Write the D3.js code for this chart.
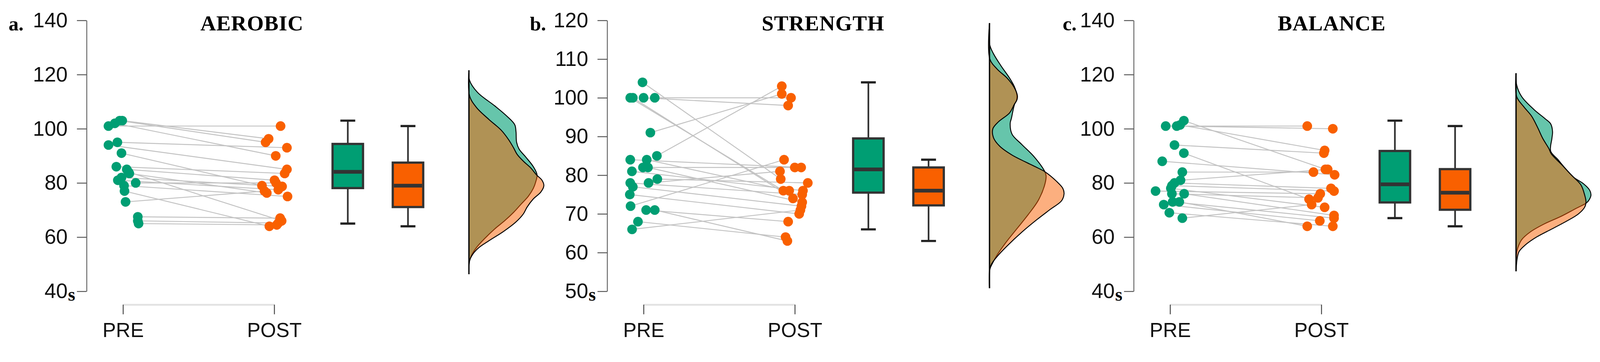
<!DOCTYPE html>
<head>
    <script src="https://d3js.org/d3.v7.min.js"></script>
    <style>
        html, body { margin: 0; padding: 0; width: 100%; height: 100%; overflow: hidden; background: #fff }
        svg { display: block }
        .yax .tick text { font-family: "Liberation Sans Narrow", "Arial Narrow", "Liberation Sans", sans-serif }
        .xax .tick text { font-family: "Liberation Sans", Arial, sans-serif }
        .title, .plabel, .unit { font-family: "Liberation Serif", "Times New Roman", serif; font-weight: bold }
    </style>
</head>
<body>
<svg id="chart" width="100%" height="100%" viewBox="0 0 4306 928" preserveAspectRatio="xMinYMin meet"></svg>
<script>
    // ---- data ----
    var groups = ["PRE", "POST"]

    // a. AEROBIC, one entry per subject (pre / post pairs)
    var aerobicPre  = [101, 103, 103, 102, 95, 94, 91, 86, 85, 83.5, 82, 81, 80, 79, 77, 84, 73, 67.5, 66, 65]
    var aerobicPost = [101, 96.3, 95, 90, 93, 85, 79, 83.5, 81, 76.3, 78.7, 77.5, 80, 75, 64, 66, 77, 67, 65.2, 64.5]
    var aerobicPreJit  = [-0.096, -0.005, -0.022, -0.054, -0.037, -0.096, -0.010, -0.044, 0.025, 0.042, -0.010, -0.034, 0.084, 0.007, 0.010, 0.037, 0.017, 0.098, 0.098, 0.103]
    var aerobicPostJit = [0.042, -0.037, -0.057, 0.010, 0.084, 0.084, -0.081, 0.069, 0.002, -0.049, 0.052, 0.027, 0.012, 0.088, -0.032, 0.049, -0.064, 0.039, 0.027, 0.017]
    var aerobicPreBox  = [65, 78.1, 84.1, 94.4, 103]   // min, q1, median, q3, max
    var aerobicPostBox = [64, 71.1, 79, 87.5, 101]
    var aerobicPreDens  = [[121.6,0],[117.9,5],[113.4,70],[108.4,210],[104.5,310],[101.5,370],[99,380],[95,385],[92.5,405],[89.5,460],[86,520],[83,550],[80.5,540],[78,520],[75.1,480],[72.1,420],[69.1,360],[66.1,290],[63.1,210],[59.6,130],[56.1,60],[53.2,20],[51.2,5],[46.3,0]]
    var aerobicPostDens = [[121.6,0],[112.2,5],[107.9,60],[103.5,160],[99.5,260],[96,320],[93,360],[90.5,390],[88,440],[85.5,500],[83,545],[81,590],[79,605],[76.6,580],[74.1,520],[71.1,470],[68.6,440],[65.6,380],[62.1,280],[58.6,160],[56.1,80],[53.6,30],[51.2,5],[46.3,0]]
    var aerobicTicks = [40, 60, 80, 100, 120, 140]

    // b. STRENGTH
    var strengthPre  = [104, 100, 100, 100, 100, 91, 85, 84, 84, 82, 82, 81, 79, 78, 78, 77, 75, 72, 71, 71, 68, 66]
    var strengthPost = [79, 100, 98, 76, 74, 101, 103, 82, 76, 82, 73, 76, 78, 81, 75, 72, 70, 84, 68, 63, 64, 71]
    var strengthPreJit  = [-0.007, 0.074, 0, -0.088, -0.071, 0.045, 0.088, -0.088, 0.021, -0.004, 0.029, -0.077, 0.091, 0.033, -0.088, -0.071, -0.091, -0.086, 0.017, 0.074, -0.037, -0.076]
    var strengthPostJit = [-0.093, -0.025, -0.044, -0.076, -0.012, -0.086, -0.086, 0.042, -0.037, 0, 0.049, 0.054, 0.086, -0.098, 0.049, 0.044, 0.029, -0.071, -0.044, -0.049, -0.061, 0.037]
    var strengthPreBox  = [66, 75.5, 81.5, 89.5, 104]
    var strengthPostBox = [63, 72.2, 76, 82, 84]
    var strengthPreDens  = [[119.3,0],[113.7,2],[111.4,32],[108.3,92],[105.1,162],[102.8,202],[100.6,222],[99.2,217],[98.3,202],[94.7,177],[93.4,167],[90.6,182],[87.9,262],[84.7,362],[80.9,447],[79.8,457],[77.1,442],[73.4,392],[69.8,312],[66.2,222],[62.6,132],[59.4,62],[57.1,22],[55.8,4],[50.8,0]]
    var strengthPostDens = [[119.3,0],[110.1,2],[107.4,62],[105.1,142],[102.8,197],[100.6,225],[99.5,222],[98.3,200],[96.1,162],[93.8,72],[92,27],[89.7,32],[87.5,82],[85.2,182],[83.4,292],[82,382],[80.9,447],[78.4,542],[76.6,592],[75.2,602],[73.4,582],[71.2,492],[68.5,382],[65.3,262],[61.7,142],[59,62],[57.1,17],[55.8,2],[50.8,0]]
    var strengthTicks = [50, 60, 70, 80, 90, 100, 110, 120]

    // c. BALANCE
    var balancePre  = [101, 101, 103, 101.4, 94, 91, 88, 84, 81, 80, 79, 78, 77, 76, 76, 73, 73, 72, 69, 67]
    var balancePost = [101, 100, 85, 92, 91, 74, 83, 84, 85, 78, 77, 71, 76, 74.5, 68, 67, 64, 66, 64, 72]
    var balancePreJit  = [-0.029, 0.044, 0.091, 0.066, 0.029, 0.091, -0.052, 0.081, 0.069, 0.029, 0.012, 0.005, -0.096, 0.012, 0.093, 0.017, 0.061, -0.042, -0.005, 0.081]
    var balancePostJit = [-0.093, 0.076, 0.027, 0.022, 0.017, -0.081, 0.088, -0.052, 0.042, 0.064, 0.084, 0.022, -0.007, -0.022, 0.084, 0.084, -0.093, -0.010, 0.076, -0.064]
    var balancePreBox  = [67, 72.8, 79.5, 91.8, 103]
    var balancePostBox = [64, 70.1, 76.4, 85.1, 101]
    var balancePreDens  = [[120.5,0],[116.2,5],[111.9,45],[107.1,145],[103.7,235],[101.8,280],[98.9,295],[96.5,290],[91.7,280],[88.8,335],[85,405],[82.1,465],[79.7,545],[77.3,595],[75.4,605],[73.4,585],[72.5,565],[70.6,485],[67.7,365],[64.8,225],[61.9,115],[59,45],[56.1,15],[54.2,5],[47.4,0]]
    var balancePostDens = [[120.5,0],[111.9,5],[108,65],[104.7,125],[100.4,175],[96.5,215],[92.7,265],[90.7,285],[86.9,365],[83.5,435],[82.1,465],[79.2,525],[75.4,555],[73,565],[71.1,555],[68.6,505],[65.8,405],[62.9,285],[60,165],[57.1,75],[54.7,25],[52.3,10],[47.4,0]]
    var balanceTicks = [40, 60, 80, 100, 120, 140]

    var panels = [
        { label: "a.", title: "AEROBIC", left: 233, labelX: 23, titleX: 678, ticks: aerobicTicks,
          pre: aerobicPre, post: aerobicPost, preJit: aerobicPreJit, postJit: aerobicPostJit,
          boxes: [aerobicPreBox, aerobicPostBox], dens: [aerobicPreDens, aerobicPostDens] },
        { label: "b.", title: "STRENGTH", left: 1634, labelX: 1426, titleX: 2215, ticks: strengthTicks,
          pre: strengthPre, post: strengthPost, preJit: strengthPreJit, postJit: strengthPostJit,
          boxes: [strengthPreBox, strengthPostBox], dens: [strengthPreDens, strengthPostDens] },
        { label: "c.", title: "BALANCE", left: 3051, labelX: 2860, titleX: 3584, ticks: balanceTicks,
          pre: balancePre, post: balancePost, preJit: balancePreJit, postJit: balancePostJit,
          boxes: [balancePreBox, balancePostBox], dens: [balancePreDens, balancePostDens] }
    ]

    var green = "#009E73", orange = "#F96000"
    var svg = d3.select("#chart")

    panels.forEach(function (p) {
        var g = svg.append("g")
        var preX = p.left + 98, postX = preX + 407
        var boxX = preX + 605, densX = boxX + 326

        var y = d3.scaleLinear().domain(d3.extent(p.ticks)).range([785, 55])
        var xCat = d3.scalePoint().domain(groups).range([preX, postX])
        var xJit = d3.scaleLinear().domain([0, 1]).range([preX, postX])
        var xBox = d3.scalePoint().domain(groups).range([boxX, boxX + 162])
        var xDen = d3.scaleLinear().domain([0, 600]).range([densX, densX + 200])

        // y axis
        var ya = g.append("g").attr("class", "yax").attr("transform", "translate(" + p.left + ",0)")
            .call(d3.axisLeft(y).tickValues(p.ticks).tickSize(26).tickSizeOuter(0).tickPadding(25))
        ya.select(".domain").attr("stroke", "#666").attr("stroke-width", 2.5)
        ya.selectAll(".tick line").attr("stroke", "#555").attr("stroke-width", 2.5)
        ya.selectAll(".tick text").attr("font-size", 56).attr("fill", "#111")
        g.append("text").attr("class", "unit").attr("x", p.left - 50).attr("y", y(p.ticks[0]) + 26)
            .attr("font-size", 50).text("s")

        // x axis
        var xa = g.append("g").attr("class", "xax").attr("transform", "translate(0,821)")
            .call(d3.axisBottom(xCat).tickSize(26).tickSizeOuter(0).tickPadding(23))
        xa.select(".domain").attr("stroke", "#e3e3e3").attr("stroke-width", 5)
        xa.selectAll(".tick line").attr("stroke", "#444").attr("stroke-width", 2.5)
        xa.selectAll(".tick text").attr("font-size", 54).attr("fill", "#111")

        // titles
        g.append("text").attr("class", "plabel").attr("x", p.labelX).attr("y", 82)
            .attr("font-size", 54).text(p.label)
        g.append("text").attr("class", "title").attr("x", p.titleX).attr("y", 82)
            .attr("text-anchor", "middle").attr("font-size", 58).attr("letter-spacing", 1).text(p.title)

        // paired lines
        g.selectAll(".pair").data(p.pre).enter().append("line")
            .attr("x1", (d, i) => xJit(p.preJit[i]))
            .attr("y1", d => y(d))
            .attr("x2", (d, i) => xJit(1 + p.postJit[i]))
            .attr("y2", (d, i) => y(p.post[i]))
            .attr("stroke", "#c2c2c2").attr("stroke-width", 2.5)

        // points
        g.selectAll(".ptPre").data(p.pre).enter().append("circle")
            .attr("cx", (d, i) => xJit(p.preJit[i])).attr("cy", d => y(d))
            .attr("r", 13).attr("fill", green)
        g.selectAll(".ptPost").data(p.post).enter().append("circle")
            .attr("cx", (d, i) => xJit(1 + p.postJit[i])).attr("cy", d => y(d))
            .attr("r", 13).attr("fill", orange)

        // box plots
        var bw = 82
        p.boxes.forEach(function (b, k) {
            var cx = xBox(groups[k])
            var bg = g.append("g")
            bg.append("line").attr("x1", cx).attr("x2", cx).attr("y1", y(b[0])).attr("y2", y(b[4]))
                .attr("stroke", "#333").attr("stroke-width", 4.5)
            ;[b[0], b[4]].forEach(function (v) {
                bg.append("line").attr("x1", cx - 20).attr("x2", cx + 20).attr("y1", y(v)).attr("y2", y(v))
                    .attr("stroke", "#222").attr("stroke-width", 6)
            })
            bg.append("rect").attr("x", cx - bw / 2).attr("width", bw)
                .attr("y", y(b[3])).attr("height", y(b[1]) - y(b[3]))
                .attr("fill", k ? orange : green).attr("stroke", "#333").attr("stroke-width", 6)
            bg.append("line").attr("x1", cx - bw / 2 + 3).attr("x2", cx + bw / 2 - 3)
                .attr("y1", y(b[2])).attr("y2", y(b[2]))
                .attr("stroke", "#333").attr("stroke-width", 10)
        })

        // half densities
        var area = d3.area().y(d => y(d[0])).x0(densX).x1(d => xDen(d[1])).curve(d3.curveCatmullRom.alpha(0.5))
        var line = d3.line().y(d => y(d[0])).x(d => xDen(d[1])).curve(d3.curveCatmullRom.alpha(0.5))
        var fills = ["rgba(0,158,115,0.6)", "rgba(249,96,0,0.5)"]
        p.dens.forEach(function (dd, k) {
            g.append("path").datum(dd).attr("d", area).attr("fill", fills[k])
            g.append("path").datum(dd).attr("d", line).attr("fill", "none")
                .attr("stroke", "#000").attr("stroke-width", 2.5)
        })
        var ext = d3.extent(p.dens[0], d => d[0])
        g.append("line").attr("x1", densX).attr("x2", densX).attr("y1", y(ext[0])).attr("y2", y(ext[1]))
            .attr("stroke", "#000").attr("stroke-width", 3.5)
    })
</script>
</body>
